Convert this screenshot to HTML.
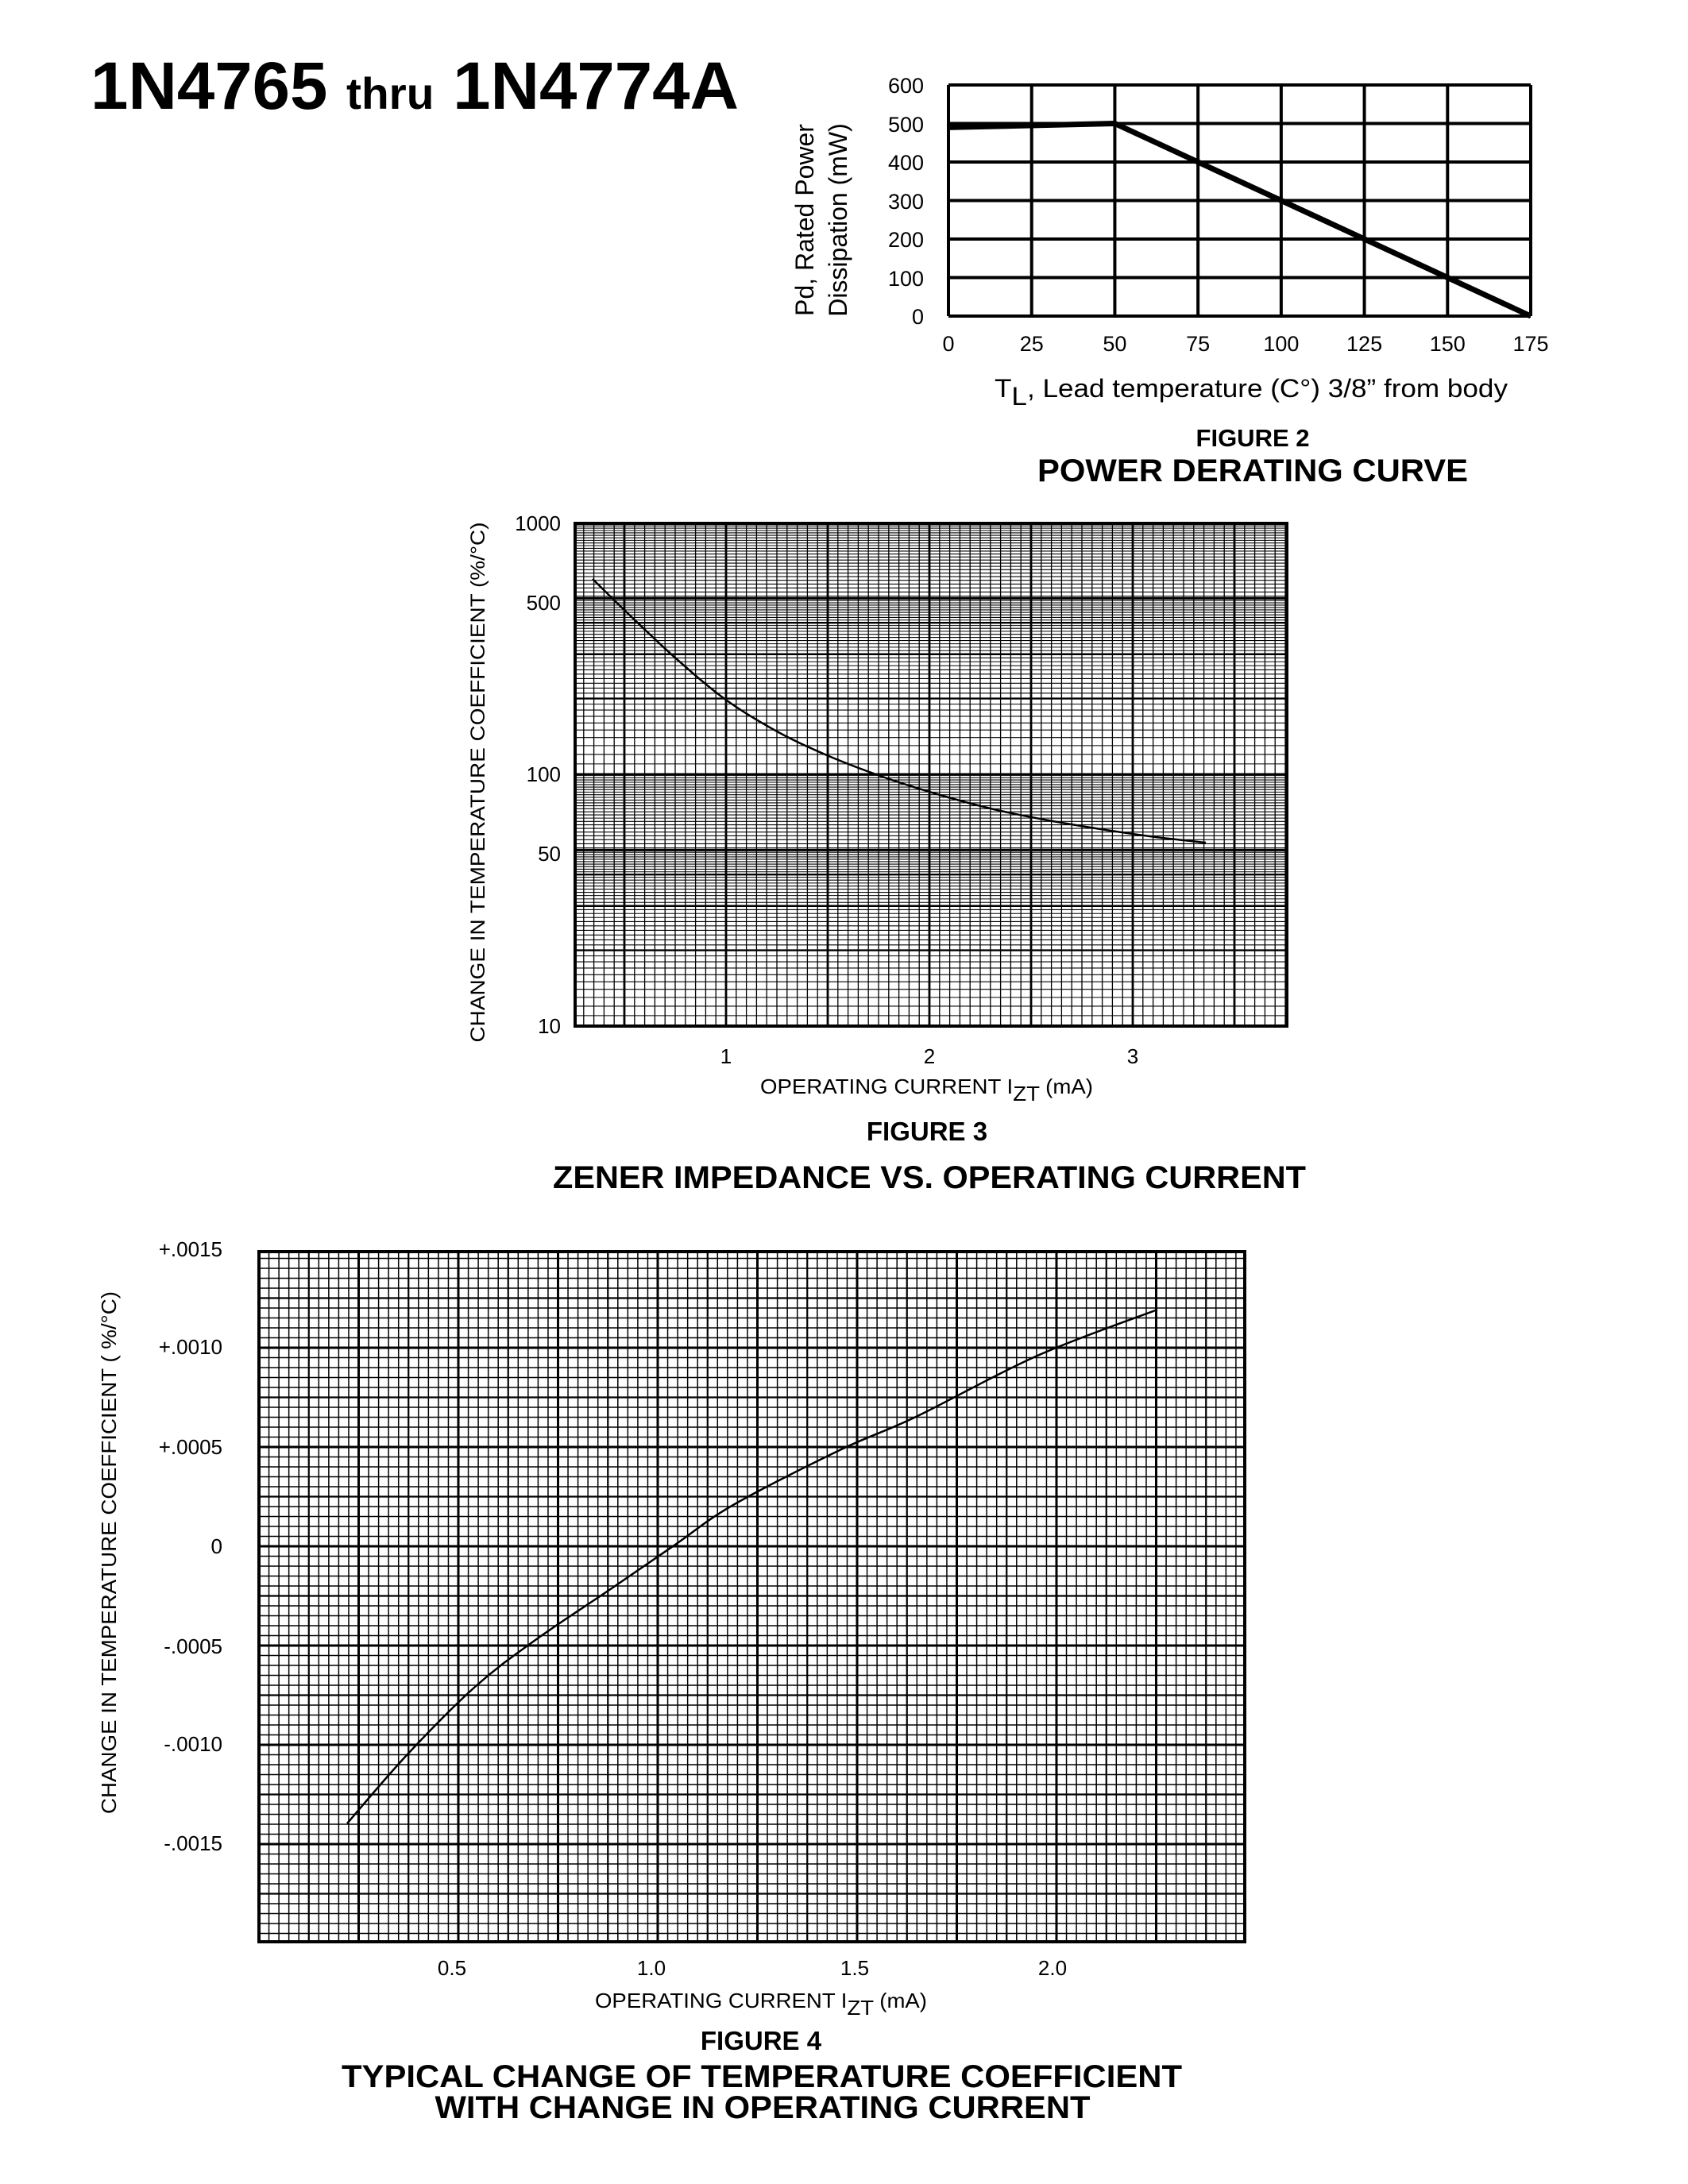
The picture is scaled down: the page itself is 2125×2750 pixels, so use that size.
<!DOCTYPE html>
<html><head><meta charset="utf-8">
<style>
html,body{margin:0;padding:0;background:#fff;}
svg{display:block;}
text{font-family:"Liberation Sans",Arial,sans-serif;fill:#000;}
.b{font-weight:bold;}
</style></head>
<body>
<svg id="s" width="2125" height="2750" viewBox="0 0 2125 2750" xmlns="http://www.w3.org/2000/svg">
<rect width="2125" height="2750" fill="#fff"/>
<text x="114" y="137" class="b" font-size="84" textLength="816" lengthAdjust="spacingAndGlyphs">1N4765 <tspan font-size="56">thru</tspan> 1N4774A</text>

<g id="f2" stroke="#000" stroke-width="4" fill="none"></g>
<g font-size="27">
<text x="1163" y="117" text-anchor="end">600</text>
<text x="1163" y="166" text-anchor="end">500</text>
<text x="1163" y="214" text-anchor="end">400</text>
<text x="1163" y="263" text-anchor="end">300</text>
<text x="1163" y="311" text-anchor="end">200</text>
<text x="1163" y="360" text-anchor="end">100</text>
<text x="1163" y="408" text-anchor="end">0</text>
</g>
<g font-size="27" text-anchor="middle" id="f2x"></g>
<text transform="translate(1024,277) rotate(-90)" font-size="32" text-anchor="middle">Pd, Rated Power</text>
<text transform="translate(1066,277) rotate(-90)" font-size="32" text-anchor="middle">Dissipation (mW)</text>
<text x="1252" y="500" font-size="32" textLength="646" lengthAdjust="spacingAndGlyphs">T<tspan font-size="32" dy="10">L</tspan><tspan dy="-10">, Lead temperature (C°) 3/8” from body</tspan></text>
<text x="1577" y="562" class="b" font-size="31" text-anchor="middle">FIGURE 2</text>
<text x="1577" y="606" class="b" font-size="40" text-anchor="middle" textLength="542" lengthAdjust="spacingAndGlyphs">POWER DERATING CURVE</text>

<g id="f3"></g>
<g font-size="26" text-anchor="end">
<text x="706" y="668">1000</text>
<text x="706" y="768">500</text>
<text x="706" y="984">100</text>
<text x="706" y="1084">50</text>
<text x="706" y="1301">10</text>
</g>
<g font-size="26" text-anchor="middle">
<text x="914" y="1339">1</text>
<text x="1170" y="1339">2</text>
<text x="1426" y="1339">3</text>
</g>
<text transform="translate(610,985) rotate(-90)" font-size="25" text-anchor="middle" textLength="655" lengthAdjust="spacingAndGlyphs">CHANGE IN TEMPERATURE COEFFICIENT (%/°C)</text>
<text x="957" y="1377" font-size="26" textLength="419" lengthAdjust="spacingAndGlyphs">OPERATING CURRENT I<tspan dy="9">ZT</tspan><tspan dy="-9"> (mA)</tspan></text>
<text x="1167" y="1436" class="b" font-size="33" text-anchor="middle">FIGURE 3</text>
<text x="1170" y="1496" class="b" font-size="40" text-anchor="middle" textLength="948" lengthAdjust="spacingAndGlyphs">ZENER IMPEDANCE VS. OPERATING CURRENT</text>

<g id="f4"></g>
<g font-size="26" text-anchor="end">
<text x="280" y="1582">+.0015</text>
<text x="280" y="1705">+.0010</text>
<text x="280" y="1831">+.0005</text>
<text x="280" y="1956">0</text>
<text x="280" y="2082">-.0005</text>
<text x="280" y="2205">-.0010</text>
<text x="280" y="2330">-.0015</text>
</g>
<g font-size="26" text-anchor="middle">
<text x="569" y="2487">0.5</text>
<text x="820" y="2487">1.0</text>
<text x="1076" y="2487">1.5</text>
<text x="1325" y="2487">2.0</text>
</g>
<text transform="translate(146,1955) rotate(-90)" font-size="26" text-anchor="middle" textLength="658" lengthAdjust="spacingAndGlyphs">CHANGE IN TEMPERATURE COEFFICIENT ( %/°C)</text>
<text x="749" y="2528" font-size="26" textLength="418" lengthAdjust="spacingAndGlyphs">OPERATING CURRENT I<tspan dy="9">ZT</tspan><tspan dy="-9"> (mA)</tspan></text>
<text x="958" y="2581" class="b" font-size="33" text-anchor="middle">FIGURE 4</text>
<text x="959" y="2628" class="b" font-size="40" text-anchor="middle" textLength="1058" lengthAdjust="spacingAndGlyphs">TYPICAL CHANGE OF TEMPERATURE COEFFICIENT</text>
<text x="960" y="2667" class="b" font-size="40" text-anchor="middle" textLength="825" lengthAdjust="spacingAndGlyphs">WITH CHANGE IN OPERATING CURRENT</text>
</svg>
<script>
var NS="http://www.w3.org/2000/svg";
function L(g,x1,y1,x2,y2,w){var l=document.createElementNS(NS,"line");l.setAttribute("x1",x1);l.setAttribute("y1",y1);l.setAttribute("x2",x2);l.setAttribute("y2",y2);l.setAttribute("stroke","#000");l.setAttribute("stroke-width",w);g.appendChild(l);}
function P(g,pts,w){var p=document.createElementNS(NS,"polyline");p.setAttribute("points",pts.map(function(a){return a.join(",")}).join(" "));p.setAttribute("fill","none");p.setAttribute("stroke","#000");p.setAttribute("stroke-width",w);p.setAttribute("stroke-linejoin","round");g.appendChild(p);}
function S(g,pts,w){var d="M"+pts[0][0]+","+pts[0][1];for(var i=0;i<pts.length-1;i++){var p0=pts[Math.max(0,i-1)],p1=pts[i],p2=pts[i+1],p3=pts[Math.min(pts.length-1,i+2)];
var c1=[p1[0]+(p2[0]-p0[0])/6,p1[1]+(p2[1]-p0[1])/6],c2=[p2[0]-(p3[0]-p1[0])/6,p2[1]-(p3[1]-p1[1])/6];d+=" C"+c1+" "+c2+" "+p2;}
var p=document.createElementNS(NS,"path");p.setAttribute("d",d);p.setAttribute("fill","none");p.setAttribute("stroke","#000");p.setAttribute("stroke-width",w);g.appendChild(p);}
function T(g,x,y,s){var t=document.createElementNS(NS,"text");t.setAttribute("x",x);t.setAttribute("y",y);t.textContent=s;g.appendChild(t);}
var g2=document.getElementById("f2");var X0=1194,X1=1927,Y0=107,Y1=398;
for(var i=0;i<=7;i++){var x=X0+(X1-X0)*i/7;L(g2,x,Y0,x,Y1,4);}
for(var j=0;j<=6;j++){var y=Y0+(Y1-Y0)*j/6;L(g2,X0,y,X1,y,4);}
function f2(t,p){return [X0+(X1-X0)*t/175,Y1-(Y1-Y0)*p/600];}
P(g2,[f2(0,490),f2(50,500),f2(175,0)],7);
var gx=document.getElementById("f2x");
for(var i=0;i<=7;i++){T(gx,X0+(X1-X0)*i/7,442,String(i*25));}
var g3=document.getElementById("f3");var a=724,b=1620,t=659,bt=1292;
function ly(v){return 1292-317*Math.log10(v/10);}
for(var x=0.30;x<3.76;x+=0.05){var px=658+256*x;if(px<a||px>b)continue;var k=Math.round(x*20);L(g3,px,t,px,bt,(k%10==0)?2.8:1.3);}
[10,100].forEach(function(d){for(var v=1;v<9.99;v+=(v<5?0.1:0.2)){var vv=Math.round(v*10)/10;var y=ly(d*vv);var w=(Math.abs(vv-Math.round(vv))<0.01)?2.4:1.1;if(vv==1||vv==5)w=3;L(g3,a,y,b,y,w);}});
var r=document.createElementNS(NS,"rect");r.setAttribute("x",a);r.setAttribute("y",t);r.setAttribute("width",b-a);r.setAttribute("height",bt-t);r.setAttribute("fill","none");r.setAttribute("stroke","#000");r.setAttribute("stroke-width",4);g3.appendChild(r);
S(g3,[[746,729],[790,772],[852,830],[915,882],[980,922],[1041,951],[1111,978],[1180,1000],[1251,1019],[1320,1033],[1392,1045],[1455,1054],[1518,1061]],2.5);
var g4=document.getElementById("f4");var A=326,B=1567,TT=1576,BB=2445;
var i=0;for(var x=A;x<=B;x+=12.55,i++){L(g4,x,TT,x,BB,(i%10==0)?3:(i%5==0?2.2:1.5));}
i=0;for(var y=1947;y>=TT;y-=12.5,i++){L(g4,A,y,B,y,(i%10==0)?3:(i%5==0?2.2:1.5));}
i=1;for(var y=1947+12.5;y<=BB;y+=12.5,i++){L(g4,A,y,B,y,(i%10==0)?3:(i%5==0?2.2:1.5));}
var r2=document.createElementNS(NS,"rect");r2.setAttribute("x",A);r2.setAttribute("y",TT);r2.setAttribute("width",B-A);r2.setAttribute("height",BB-TT);r2.setAttribute("fill","none");r2.setAttribute("stroke","#000");r2.setAttribute("stroke-width",4);g4.appendChild(r2);
S(g4,[[437,2296],[512,2210],[598,2124],[674,2065],[770,2000],[850,1945],[923,1895],[1057,1826],[1153,1784],[1306,1707],[1457,1649]],2.5);
</script>
</body></html>
